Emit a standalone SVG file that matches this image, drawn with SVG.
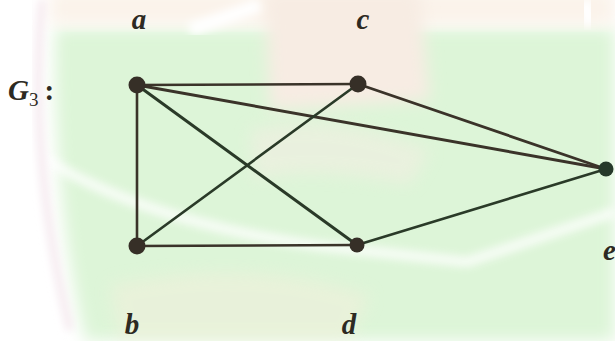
<svg xmlns="http://www.w3.org/2000/svg" width="615" height="341" viewBox="0 0 615 341">
<defs>
<filter id="blur" x="-20%" y="-20%" width="140%" height="140%"><feGaussianBlur stdDeviation="8"/></filter>
<filter id="blur2" x="-20%" y="-20%" width="140%" height="140%"><feGaussianBlur stdDeviation="4"/></filter>
</defs>
<style>
.edge{stroke:#2a3a28;stroke-width:2.6;fill:none;stroke-linecap:round}
.br{stroke:#3a3329}
.node{fill:#362f27}
.lbl{font-family:"Liberation Serif",serif;font-style:italic;font-weight:bold;font-size:29px;fill:#2d2a22}
</style>
<g id="background">
<rect width="615" height="341" fill="#ffffff"/>
<path d="M55,28 L615,28 L615,341 L85,341 Q52,200 55,28 Z" fill="#ddf5d8" filter="url(#blur)"/>
<path d="M50,-10 L615,-10 L615,25 L50,25 Z" fill="#fbf3ea" filter="url(#blur)"/>
<path d="M265,-10 L420,-10 L430,100 L270,110 Z" fill="#f7ece3" filter="url(#blur)"/>
<path d="M250,130 Q330,110 430,150 L410,185 Q310,165 255,180 Z" fill="#f6ede4" opacity="0.5" filter="url(#blur)"/>
<path d="M110,285 Q250,255 370,295 L350,341 L120,341 Z" fill="#f4efdc" opacity="0.5" filter="url(#blur)"/>
<path d="M30,150 Q140,222 320,246 L467,262 L615,212" stroke="#ffffff" stroke-width="10" fill="none" opacity="0.8" filter="url(#blur2)"/>
<path d="M42,0 Q28,160 70,330" stroke="#f3e4eb" stroke-width="6" fill="none" filter="url(#blur2)"/>
<path d="M190,30 L260,5" stroke="#ffffff" stroke-width="14" fill="none" filter="url(#blur2)"/>
<path d="M585,0 L590,25" stroke="#ffffff" stroke-width="16" fill="none" filter="url(#blur2)"/>
</g>
<g id="edges">
<line class="edge br" x1="137" y1="85" x2="358" y2="84"/>
<line class="edge br" x1="137" y1="85" x2="137" y2="246"/>
<line class="edge" x1="137" y1="85" x2="357" y2="245" style="stroke-width:3"/>
<line class="edge br" x1="137" y1="85" x2="606" y2="169" style="stroke-width:3"/>
<line class="edge" x1="358" y1="84" x2="137" y2="246"/>
<line class="edge br" x1="358" y1="84" x2="606" y2="169" style="stroke-width:2.8"/>
<line class="edge br" x1="137" y1="246" x2="357" y2="245"/>
<line class="edge" x1="357" y1="245" x2="606" y2="169"/>
</g>
<g id="node-a"><circle class="node" cx="137" cy="85" r="8.5"/><text class="lbl" x="139" y="29" text-anchor="middle">a</text></g>
<g id="node-c"><circle class="node" cx="358" cy="84" r="8.5"/><text class="lbl" x="363" y="29" text-anchor="middle">c</text></g>
<g id="node-b"><circle class="node" cx="137" cy="246" r="8.5"/><text class="lbl" x="132" y="334" text-anchor="middle">b</text></g>
<g id="node-d"><circle class="node" cx="357" cy="245" r="7.5"/><text class="lbl" x="349" y="334" text-anchor="middle">d</text></g>
<g id="node-e"><circle class="node" cx="606" cy="169" r="7.5" style="fill:#26392a"/><text class="lbl" x="603" y="260">e</text></g>
<g id="graph-label"><text class="lbl" x="8" y="100" font-size="27">G<tspan font-size="19" dy="6" font-style="normal" font-weight="normal">3</tspan><tspan dy="-6" dx="6" font-style="normal">:</tspan></text></g>
</svg>
